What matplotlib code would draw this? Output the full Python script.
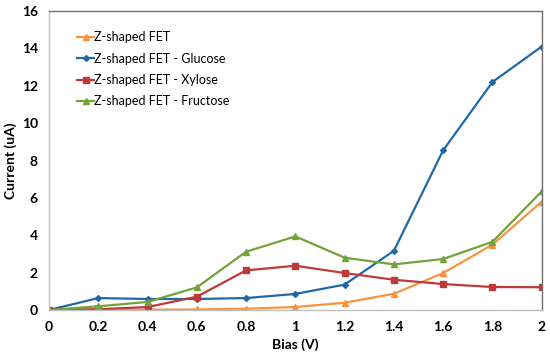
import matplotlib.pyplot as plt
import numpy as np

bias = [0, 0.2, 0.4, 0.6, 0.8, 1.0, 1.2, 1.4, 1.6, 1.8, 2.0]
fet = [0, 0.02, 0.02, 0.03, 0.07, 0.16, 0.39, 0.87, 1.98, 3.5, 5.8]
glucose = [0, 0.64, 0.59, 0.59, 0.64, 0.86, 1.36, 3.17, 8.55, 12.2, 14.1]
xylose = [0, 0.04, 0.16, 0.71, 2.12, 2.37, 1.98, 1.62, 1.39, 1.23, 1.22]
fructose = [0, 0.2, 0.43, 1.21, 3.12, 3.94, 2.8, 2.44, 2.73, 3.65, 6.35]

xticks = [0, 0.2, 0.4, 0.6, 0.8, 1, 1.2, 1.4, 1.6, 1.8, 2]
xlabels = ['0', '0.2', '0.4', '0.6', '0.8', '1', '1.2', '1.4', '1.6', '1.8', '2']
yticks = [0, 2, 4, 6, 8, 10, 12, 14, 16]

plt.rcParams['font.family'] = ['Lato', 'DejaVu Sans']

fig = plt.figure(figsize=(5.5, 3.62), dpi=100)
ax = fig.add_axes([0.089, 0.1436, 0.896, 0.826])

ax.plot(bias, fet, color='#F7943D', marker='^', markersize=4.5, lw=1.6, label='Z-shaped FET')
ax.plot(bias, glucose, color='#1F69A8', marker='D', markersize=3, lw=1.6, label='Z-shaped FET - Glucose')
ax.plot(bias, xylose, color='#BE3A3A', marker='s', markersize=4.5, lw=1.6, label='Z-shaped FET - Xylose')
ax.plot(bias, fructose, color='#73A23A', marker='^', markersize=4.5, lw=1.6, label='Z-shaped FET - Fructose')

ax.set_xlim(0, 2)
ax.set_ylim(0, 16)
ax.set_xticks(xticks)
ax.set_xticklabels(xlabels)
ax.set_yticks(yticks)
ax.tick_params(length=0, labelsize=10, pad=8)
for lab in ax.get_xticklabels() + ax.get_yticklabels():
    lab.set_fontweight('bold')

ax.spines['top'].set_color('#6f6f6f')
ax.spines['right'].set_color('#6f6f6f')
ax.spines['left'].set_color('#bfbfbf')
ax.spines['bottom'].set_color('#bfbfbf')
for s in ax.spines.values():
    s.set_linewidth(1.0)

ax.set_xlabel('Bias (V)', fontsize=10, fontweight='bold', labelpad=4)
ax.set_ylabel('Current (uA)', fontsize=10, fontweight='bold')
ax.yaxis.set_label_coords(-0.065, 0.5)

ax.legend(loc='upper left', bbox_to_anchor=(0.035, 0.97), frameon=False, fontsize=9,
          handlelength=1.3, handletextpad=0.05, labelspacing=0.75)

plt.savefig('out.png', dpi=100)
